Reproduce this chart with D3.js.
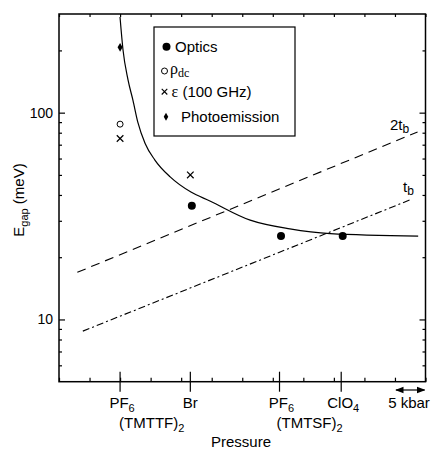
<!DOCTYPE html>
<html>
<head>
<meta charset="utf-8">
<script src="https://cdn.jsdelivr.net/npm/d3@7"></script>
<style>
  html, body { margin: 0; padding: 0; background: #fff; }
  text, tspan { font-family: "Liberation Sans", Arial, Helvetica, sans-serif; fill: #000; }
  .serif, .serif tspan { font-family: "Liberation Serif", "Times New Roman", serif; }
</style>
</head>
<body>
<svg id="chart" width="435" height="450"></svg>
<script>
// ---------------- data ----------------
const categories = ["PF6 (TMTTF)2", "Br", "PF6 (TMTSF)2", "ClO4"];
const categoryPressure = [10, 21.5, 36.1, 46.2];           // kbar
const opticsCats = ["Br", "PF6 (TMTSF)2", "ClO4"];
const opticsValues = [35.5, 25.3, 25.3];                     // meV
const rhoDcCats = ["PF6 (TMTTF)2"];
const rhoDcValues = [88];
const epsCats = ["PF6 (TMTTF)2", "Br"];
const epsValues = [75, 50];
const photoCats = ["PF6 (TMTTF)2"];
const photoValues = [207];
// guide curve (pressure kbar, gap meV)
const curveP = [9.99, 10.48, 11.3, 12.1, 12.9, 14.1, 15.7, 18.2, 21.6, 24.7, 31.3, 37.8, 44.4, 58.8];
const curveE = [290, 201, 144, 115, 90, 71, 59, 48.9, 41.3, 37.4, 30.2, 27.4, 26.0, 25.3];
// 2t_b and t_b lines
const twoTbP = [3.0, 58.7];
const twoTbE = [16.9, 80.7];
const tbP = [3.9, 57.8];
const tbE = [8.78, 38.2];
// axes
const yMajorTicks = [10, 100];
const yMinorTicks = [6, 7, 8, 9, 20, 30, 40, 50, 60, 70, 80, 90, 200];
const xMinorTicks = [0, 5, 10, 15, 20, 25, 30, 35, 40, 45, 50, 55, 60];
const xDomain = [0, 60];
const yDomain = [5, 300];
const scaleBarP = [55, 60];

// ---------------- layout ----------------
const L = 59, R = 425.5, T = 14, B = 381.7;
const svg = d3.select("#chart");
const x = d3.scaleLinear().domain(xDomain).range([L, R]);
const y = d3.scaleLog().domain(yDomain).range([B, T]);
const posOf = c => x(categoryPressure[categories.indexOf(c)]);

// axes (ticks inward)
const gl = svg.append("g").attr("transform", `translate(${L},0)`);
gl.call(d3.axisLeft(y).tickValues(yMajorTicks).tickSize(-6).tickPadding(6).tickFormat(d3.format("d")));
gl.append("g").call(d3.axisLeft(y).tickValues(yMinorTicks).tickSize(-3).tickFormat(""));
const gr = svg.append("g").attr("transform", `translate(${R},0)`);
gr.call(d3.axisRight(y).tickValues(yMajorTicks).tickSize(-6).tickFormat(""));
gr.append("g").call(d3.axisRight(y).tickValues(yMinorTicks).tickSize(-3).tickFormat(""));
const gb = svg.append("g").attr("transform", `translate(0,${B})`);
gb.call(d3.axisBottom(x).tickValues(xMinorTicks).tickSize(-4).tickFormat(""));
const gt = svg.append("g").attr("transform", `translate(0,${T})`);
gt.call(d3.axisTop(x).tickValues(xMinorTicks).tickSize(-3).tickFormat(""));
svg.selectAll(".domain").remove();
svg.selectAll(".tick line").attr("stroke", "#000").attr("stroke-width", 1.2);
gl.selectAll(".tick text").attr("font-size", 14).attr("fill", "#000").attr("font-family", "Liberation Sans, Arial, sans-serif");

// category ticks crossing bottom axis
svg.append("g").selectAll("line").data(categoryPressure).join("line")
  .attr("x1", d => x(d)).attr("x2", d => x(d))
  .attr("y1", B - 10).attr("y2", B + 10)
  .attr("stroke", "#000").attr("stroke-width", 1.2);

// frame
svg.append("rect").attr("x", L).attr("y", T).attr("width", R - L).attr("height", B - T)
  .attr("fill", "none").attr("stroke", "#000").attr("stroke-width", 1.5);

// category labels
function subText(g, xx, yy, main, sub, anchor, tail) {
  const t = g.append("text").attr("x", xx).attr("y", yy).attr("font-size", 15).attr("text-anchor", anchor);
  t.append("tspan").text(main);
  t.append("tspan").attr("font-size", 11).attr("dy", 4).text(sub);
  if (tail) t.append("tspan").attr("dy", -4).text(tail);
  return t;
}
const lab = svg.append("g");
const c0 = posOf(categories[0]), c1 = posOf(categories[1]), c2 = posOf(categories[2]), c3 = posOf(categories[3]);
subText(lab, c0 + 2, 408, "PF", "6", "middle");
subText(lab, c0 - 1, 428, "(TMTTF)", "2", "start");
lab.append("text").attr("x", c1).attr("y", 408).attr("font-size", 15).attr("text-anchor", "middle").text("Br");
subText(lab, c2 + 2, 408, "PF", "6", "middle");
subText(lab, c2 - 3, 428, "(TMTSF)", "2", "start");
subText(lab, c3 + 2, 408, "ClO", "4", "middle");
lab.append("text").attr("x", 241).attr("y", 447).attr("font-size", 15).attr("text-anchor", "middle").text("Pressure");

// 5 kbar scale bar
const defs = svg.append("defs");
defs.append("marker").attr("id", "ah").attr("viewBox", "0 0 10 10").attr("refX", 9).attr("refY", 5)
  .attr("markerWidth", 7).attr("markerHeight", 7).attr("orient", "auto-start-reverse")
  .append("path").attr("d", "M0,1 L10,5 L0,9 Z").attr("fill", "#000");
svg.append("line").attr("x1", x(scaleBarP[0]) + 1).attr("x2", x(scaleBarP[1]) - 1).attr("y1", 390).attr("y2", 390)
  .attr("stroke", "#000").attr("stroke-width", 1.2)
  .attr("marker-start", "url(#ah)").attr("marker-end", "url(#ah)");
svg.append("text").attr("x", 409).attr("y", 408).attr("font-size", 15).attr("text-anchor", "middle").text("5 kbar");

// y label
const yl = svg.append("text").attr("transform", "translate(24,200) rotate(-90)")
  .attr("font-size", 15).attr("text-anchor", "middle");
yl.append("tspan").text("E");
yl.append("tspan").attr("font-size", 11).attr("dy", 4).text("gap");
yl.append("tspan").attr("dy", -4).text(" (meV)");

// lines
const line = d3.line().x(d => x(d[0])).y(d => y(d[1]));
svg.append("path").datum(d3.zip(twoTbP, twoTbE)).attr("d", line)
  .attr("fill", "none").attr("stroke", "#000").attr("stroke-width", 1.1).attr("stroke-dasharray", "9,6");
svg.append("path").datum(d3.zip(tbP, tbE)).attr("d", line)
  .attr("fill", "none").attr("stroke", "#000").attr("stroke-width", 1.1).attr("stroke-dasharray", "7,3,2,3");
svg.append("path").datum(d3.zip(curveP, curveE)).attr("d", line.curve(d3.curveMonotoneX))
  .attr("fill", "none").attr("stroke", "#000").attr("stroke-width", 1.2);

// line labels
const l2 = svg.append("text").attr("x", 390).attr("y", 130).attr("font-size", 15);
l2.append("tspan").text("2t");
l2.append("tspan").attr("font-size", 12).attr("dy", 3).text("b");
const l1 = svg.append("text").attr("x", 403).attr("y", 192).attr("font-size", 15);
l1.append("tspan").text("t");
l1.append("tspan").attr("font-size", 12).attr("dy", 3).text("b");

// markers
const mk = svg.append("g");
mk.selectAll("circle.opt").data(d3.zip(opticsCats, opticsValues)).join("circle").attr("class", "opt")
  .attr("cx", d => posOf(d[0]) + 1.5).attr("cy", d => y(d[1])).attr("r", 4).attr("fill", "#000");
mk.selectAll("circle.rho").data(d3.zip(rhoDcCats, rhoDcValues)).join("circle").attr("class", "rho")
  .attr("cx", d => posOf(d[0])).attr("cy", d => y(d[1])).attr("r", 3).attr("fill", "#fff").attr("stroke", "#000").attr("stroke-width", 1);
const cross = d3.symbol().type(d3.symbolX).size(30);
mk.selectAll("path.eps").data(d3.zip(epsCats, epsValues)).join("path").attr("class", "eps")
  .attr("transform", d => `translate(${posOf(d[0])},${y(d[1])})`).attr("d", cross)
  .attr("fill", "none").attr("stroke", "#000").attr("stroke-width", 1.2);
const diamond = d3.symbol().type(d3.symbolDiamond).size(22);
mk.selectAll("path.pho").data(d3.zip(photoCats, photoValues)).join("path").attr("class", "pho")
  .attr("transform", d => `translate(${posOf(d[0])},${y(d[1])})`).attr("d", diamond).attr("fill", "#000");

// legend
const lg = svg.append("g");
lg.append("rect").attr("x", 154).attr("y", 27).attr("width", 141).attr("height", 109)
  .attr("fill", "#fff").attr("stroke", "#000").attr("stroke-width", 1.2);
lg.append("circle").attr("cx", 166.5).attr("cy", 46.7).attr("r", 4).attr("fill", "#000");
lg.append("text").attr("x", 175).attr("y", 52).attr("font-size", 15).text("Optics");
lg.append("circle").attr("cx", 164.5).attr("cy", 71).attr("r", 3).attr("fill", "#fff").attr("stroke", "#000");
const rt = lg.append("text").attr("x", 170).attr("y", 74).attr("font-size", 15).attr("class", "serif");
rt.append("tspan").attr("font-size", 16).text("ρ");
rt.append("tspan").attr("font-size", 12).attr("dy", 3).text("dc");
lg.append("path").attr("transform", "translate(164.5,91.7)").attr("d", d3.symbol().type(d3.symbolX).size(22))
  .attr("fill", "none").attr("stroke", "#000").attr("stroke-width", 1.1);
const et = lg.append("text").attr("x", 171.5).attr("y", 97).attr("font-size", 15);
et.append("tspan").attr("class", "serif").attr("font-size", 16).text("ε");
et.append("tspan").text(" (100 GHz)");
lg.append("path").attr("transform", "translate(166,116.7)").attr("d", d3.symbol().type(d3.symbolDiamond).size(18)).attr("fill", "#000");
lg.append("text").attr("x", 181).attr("y", 122).attr("font-size", 15).text("Photoemission");
</script>
</body>
</html>
